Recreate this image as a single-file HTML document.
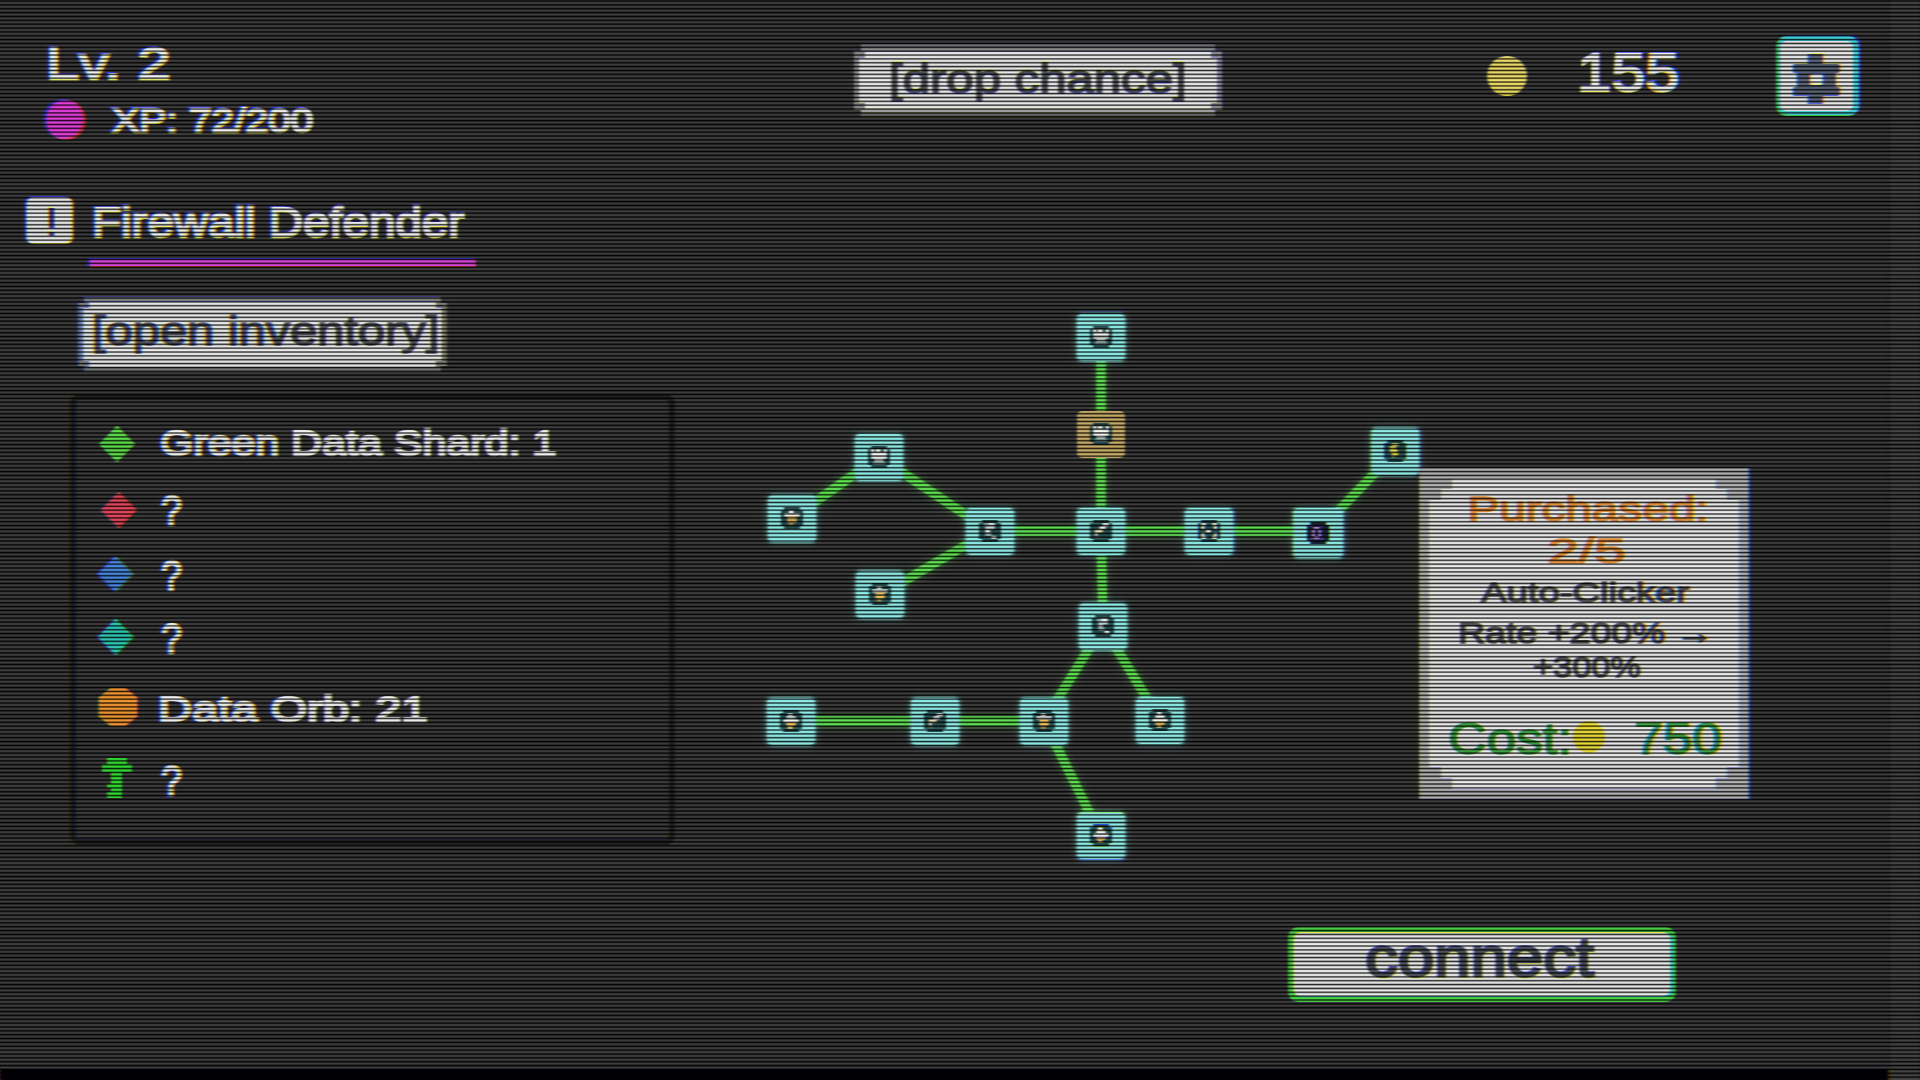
<!DOCTYPE html>
<html><head><meta charset="utf-8">
<style>
html,body{margin:0;padding:0;width:1920px;height:1080px;overflow:hidden;background:#3c3c3c;}
#ui{position:absolute;left:0;top:0;width:1920px;height:1080px;background:#3c3c3c;font-family:"Liberation Sans",sans-serif;font-weight:bold;overflow:hidden;filter:url(#crt);}
.t{position:absolute;white-space:nowrap;line-height:1;transform-origin:0 0;font-weight:normal;-webkit-text-stroke:1.3px currentColor;}
.w{color:#f0f0f0;-webkit-text-stroke:2.5px #f0f0f0;}
.dk{color:#505258;-webkit-text-stroke:1.6px #505258;}
.btn{position:absolute;background:#e9e9e9;}
.halo{position:absolute;background:rgba(232,233,236,.48);}
.dia{position:absolute;width:26px;height:26px;transform:rotate(45deg);}
.node{position:absolute;width:48px;height:47px;background:#90ece8;border-radius:5px;box-shadow:0 0 0 2px rgba(130,225,220,.3),0 0 8px rgba(130,235,230,.45);}
.node svg{position:absolute;left:13px;top:12px;}
.node.gold{background:#c8ac6a;box-shadow:none}
.node.big{width:50px;height:50px}
.node.big svg{left:14px;top:14px}
#lines{position:absolute;left:0;top:0;}
#scan{position:absolute;left:0;top:0;width:1920px;height:1080px;
 backdrop-filter:brightness(0.15) contrast(1.074);
 -webkit-mask-image:repeating-linear-gradient(to bottom,#000 0px,transparent 1.4px,transparent 2.457px,#000 3.857px);
 mask-image:repeating-linear-gradient(to bottom,#000 0px,transparent 1.4px,transparent 2.457px,#000 3.857px);
 -webkit-mask-position:0 1.07px;mask-position:0 1.07px;}
#bot{position:absolute;left:0;top:1069px;width:1892px;height:11px;background:#010106;}
</style></head>
<body>
<svg width="0" height="0" style="position:absolute">
  <filter id="crt" x="0" y="0" width="1920" height="1080" filterUnits="userSpaceOnUse" color-interpolation-filters="sRGB">
    <feFlood flood-color="#3c3c3c" x="0" y="0" width="1920" height="1080" result="bg"/>
    <feOffset in="SourceGraphic" dx="-2" dy="-1" x="0" y="0" width="278" height="313" result="b00"/>
    <feOffset in="SourceGraphic" dx="-2" dy="0" x="0" y="313" width="278" height="454" result="b01"/>
    <feOffset in="SourceGraphic" dx="-2" dy="1" x="0" y="767" width="278" height="313" result="b02"/>
    <feOffset in="SourceGraphic" dx="-1" dy="-1" x="278" y="0" width="455" height="313" result="b10"/>
    <feOffset in="SourceGraphic" dx="-1" dy="0" x="278" y="313" width="455" height="454" result="b11"/>
    <feOffset in="SourceGraphic" dx="-1" dy="1" x="278" y="767" width="455" height="313" result="b12"/>
    <feOffset in="SourceGraphic" dx="0" dy="-1" x="733" y="0" width="454" height="313" result="b20"/>
    <feOffset in="SourceGraphic" dx="0" dy="0" x="733" y="313" width="454" height="454" result="b21"/>
    <feOffset in="SourceGraphic" dx="0" dy="1" x="733" y="767" width="454" height="313" result="b22"/>
    <feOffset in="SourceGraphic" dx="1" dy="-1" x="1187" y="0" width="455" height="313" result="b30"/>
    <feOffset in="SourceGraphic" dx="1" dy="0" x="1187" y="313" width="455" height="454" result="b31"/>
    <feOffset in="SourceGraphic" dx="1" dy="1" x="1187" y="767" width="455" height="313" result="b32"/>
    <feOffset in="SourceGraphic" dx="2" dy="-1" x="1642" y="0" width="278" height="313" result="b40"/>
    <feOffset in="SourceGraphic" dx="2" dy="0" x="1642" y="313" width="278" height="454" result="b41"/>
    <feOffset in="SourceGraphic" dx="2" dy="1" x="1642" y="767" width="278" height="313" result="b42"/>
    <feMerge x="0" y="0" width="1920" height="1080" result="bm"><feMergeNode in="bg"/><feMergeNode in="b00"/><feMergeNode in="b01"/><feMergeNode in="b02"/><feMergeNode in="b10"/><feMergeNode in="b11"/><feMergeNode in="b12"/><feMergeNode in="b20"/><feMergeNode in="b21"/><feMergeNode in="b22"/><feMergeNode in="b30"/><feMergeNode in="b31"/><feMergeNode in="b32"/><feMergeNode in="b40"/><feMergeNode in="b41"/><feMergeNode in="b42"/></feMerge>
    <feOffset in="SourceGraphic" dx="1" dy="0" x="0" y="0" width="278" height="313" result="r00"/>
    <feOffset in="SourceGraphic" dx="1" dy="0" x="0" y="313" width="278" height="454" result="r01"/>
    <feOffset in="SourceGraphic" dx="1" dy="0" x="0" y="767" width="278" height="313" result="r02"/>
    <feOffset in="SourceGraphic" dx="0" dy="0" x="278" y="0" width="455" height="313" result="r10"/>
    <feOffset in="SourceGraphic" dx="0" dy="0" x="278" y="313" width="455" height="454" result="r11"/>
    <feOffset in="SourceGraphic" dx="0" dy="0" x="278" y="767" width="455" height="313" result="r12"/>
    <feOffset in="SourceGraphic" dx="0" dy="0" x="733" y="0" width="454" height="313" result="r20"/>
    <feOffset in="SourceGraphic" dx="0" dy="0" x="733" y="313" width="454" height="454" result="r21"/>
    <feOffset in="SourceGraphic" dx="0" dy="0" x="733" y="767" width="454" height="313" result="r22"/>
    <feOffset in="SourceGraphic" dx="0" dy="0" x="1187" y="0" width="455" height="313" result="r30"/>
    <feOffset in="SourceGraphic" dx="0" dy="0" x="1187" y="313" width="455" height="454" result="r31"/>
    <feOffset in="SourceGraphic" dx="0" dy="0" x="1187" y="767" width="455" height="313" result="r32"/>
    <feOffset in="SourceGraphic" dx="-1" dy="0" x="1642" y="0" width="278" height="313" result="r40"/>
    <feOffset in="SourceGraphic" dx="-1" dy="0" x="1642" y="313" width="278" height="454" result="r41"/>
    <feOffset in="SourceGraphic" dx="-1" dy="0" x="1642" y="767" width="278" height="313" result="r42"/>
    <feMerge x="0" y="0" width="1920" height="1080" result="rm"><feMergeNode in="bg"/><feMergeNode in="r00"/><feMergeNode in="r01"/><feMergeNode in="r02"/><feMergeNode in="r10"/><feMergeNode in="r11"/><feMergeNode in="r12"/><feMergeNode in="r20"/><feMergeNode in="r21"/><feMergeNode in="r22"/><feMergeNode in="r30"/><feMergeNode in="r31"/><feMergeNode in="r32"/><feMergeNode in="r40"/><feMergeNode in="r41"/><feMergeNode in="r42"/></feMerge>
    <feColorMatrix in="rm" type="matrix" values="1 0 0 0 0  0 0 0 0 0  0 0 0 0 0  0 0 0 1 0" result="r"/>
    <feColorMatrix in="SourceGraphic" type="matrix" values="0 0 0 0 0  0 1 0 0 0  0 0 0 0 0  0 0 0 1 0" result="g"/>
    <feColorMatrix in="bm" type="matrix" values="0 0 0 0 0  0 0 0 0 0  0 0 1 0 0  0 0 0 1 0" result="b"/>
    <feComposite in="r" in2="g" operator="arithmetic" k2="1" k3="1" result="rg"/>
    <feComposite in="rg" in2="b" operator="arithmetic" k2="1" k3="1" result="rgb"/>
    <feGaussianBlur in="rgb" stdDeviation="1.3 0.5"/>
  </filter>
</svg>
<div id="ui">
  <!-- top left -->
  <div id="lv" class="t w" style="left:46.0px;top:41.0px;font-size:45.1px;transform:scaleX(1.320)">Lv. 2</div>
  <div style="position:absolute;left:45px;top:100px;width:40px;height:40px;border-radius:50%;background:#e040d8"></div>
  <div id="xp" class="t w" style="left:112.0px;top:104.5px;font-size:32.5px;transform:scaleX(1.252)">XP: 72/200</div>

  <!-- quest -->
  <div style="position:absolute;left:26px;top:197px;width:47px;height:47px;background:#e9e9e9;border-radius:7px"></div>
  <div style="position:absolute;left:49px;top:208px;width:5px;height:20px;background:#4a3a58;"></div>
  <div style="position:absolute;left:49px;top:232px;width:5px;height:4px;background:#4a3a58;"></div>
  <div id="fw" class="t w" style="left:92.0px;top:202.0px;font-size:42.0px;transform:scaleX(1.131)">Firewall Defender</div>
  <div style="position:absolute;left:89px;top:259px;width:387px;height:8px;background:#d848d8;"></div>

  <!-- open inventory -->
  <div class="halo" style="background:linear-gradient(to bottom,rgba(232,233,236,.4) 0,rgba(232,233,236,.4) 70px,rgba(232,233,236,.35) 70px,rgba(232,233,236,.35) 75px);left:78px;top:297px;width:369px;height:75px;clip-path:polygon(6px 0px,363px 0px,363px 6px,369px 6px,369px 69px,363px 69px,363px 75px,6px 75px,6px 69px,0px 69px,0px 6px,6px 6px)"></div>
  <div class="btn" style="left:83px;top:302px;width:359px;height:65px;clip-path:polygon(6px 0px,353px 0px,353px 6px,359px 6px,359px 59px,353px 59px,353px 65px,6px 65px,6px 59px,0px 59px,0px 6px,6px 6px)"></div>
  <div id="oi" class="t dk" style="left:92.0px;top:311.0px;font-size:41.0px;transform:scaleX(1.191)">[open inventory]</div>

  <!-- inventory panel -->
  <div style="position:absolute;left:70px;top:394px;width:605px;height:451px;box-sizing:border-box;border:6px solid #222222;border-radius:9px;"></div>
  <div class="dia" style="left:103.7px;top:430.6px;background:#60dc4c"></div>
  <div id="gds" class="t w" style="left:160.0px;top:426.0px;font-size:35.4px;transform:scaleX(1.214)">Green Data Shard: 1</div>
  <div class="dia" style="left:104.5px;top:497px;background:#e04a5e"></div>
  <div class="t w" style="left:161px;top:490px;font-size:42px;transform:scaleX(0.9)">?</div>
  <div class="dia" style="left:103px;top:561px;background:#4a88dc"></div>
  <div class="t w" style="left:161px;top:555px;font-size:42px;transform:scaleX(0.9)">?</div>
  <div class="dia" style="left:103px;top:624px;background:#30c8b8"></div>
  <div class="t w" style="left:161px;top:618px;font-size:42px;transform:scaleX(0.9)">?</div>
  <div style="position:absolute;left:98px;top:688px;width:39px;height:38px;background:#f09632;clip-path:polygon(30% 0,70% 0,100% 25%,100% 75%,70% 100%,30% 100%,0 75%,0 25%)"></div>
  <div id="orb" class="t w" style="left:158.0px;top:692.0px;font-size:35.4px;transform:scaleX(1.331)">Data Orb: 21</div>
  <!-- key -->
  <svg style="position:absolute;left:100px;top:756px" width="36" height="44" viewBox="0 0 36 44"><path fill="#34d834" d="M7 2H27V8H32V16H22V42H7V36H11V32H7V28H11V16H2V8H7Z"/></svg>
  <div class="t w" style="left:161px;top:760px;font-size:42px;transform:scaleX(0.9)">?</div>

  <!-- drop chance -->
  <div class="halo" style="background:linear-gradient(to bottom,rgba(232,233,236,.3) 0,rgba(232,233,236,.3) 4px,rgba(232,233,236,.45) 4px,rgba(232,233,236,.45) 65px,rgba(232,233,236,.6) 65px,rgba(232,233,236,.6) 69px,rgba(232,233,236,.25) 69px,rgba(232,233,236,.25) 73px);left:854px;top:44px;width:368px;height:73px;clip-path:polygon(7px 0px,361px 0px,361px 7px,368px 7px,368px 66px,361px 66px,361px 73px,7px 73px,7px 66px,0px 66px,0px 7px,7px 7px)"></div>
  <div class="btn" style="left:859px;top:52px;width:358px;height:57px;clip-path:polygon(6px 0px,352px 0px,352px 6px,358px 6px,358px 51px,352px 51px,352px 57px,6px 57px,6px 51px,0px 51px,0px 6px,6px 6px)"></div>
  <div id="dc" class="t dk" style="left:889.0px;top:59.0px;font-size:41.0px;transform:scaleX(1.198)">[drop chance]</div>

  <!-- coins -->
  <div style="position:absolute;left:1487px;top:56px;width:40px;height:40px;border-radius:50%;background:#ecdc6a"></div>
  <div id="coins" class="t w" style="left:1577.0px;top:45.0px;font-size:54.1px;transform:scaleX(1.135)">155</div>

  <!-- settings -->
  <div style="position:absolute;left:1776px;top:36px;width:83px;height:80px;background:#44d4dc;border-radius:10px"></div>
  <div style="position:absolute;left:1781px;top:41px;width:73px;height:70px;background:#e9e9e9;border-radius:6px;"></div>
  <svg style="position:absolute;left:1790px;top:50px" width="56" height="56" viewBox="0 0 56 56">
    <g fill="#5c6678">
      <rect x="18" y="4" width="15" height="11"/>
      <rect x="3" y="14" width="47" height="9" rx="2"/>
      <rect x="7" y="22" width="39" height="16"/>
      <rect x="3" y="37" width="47" height="9" rx="2"/>
      <rect x="18" y="45" width="15" height="9"/>
    </g>
    <rect x="20" y="24" width="13" height="11" rx="2" fill="#eeeeee"/>
  </svg>

  <!-- skill tree lines -->
  <svg id="lines" width="1920" height="1080">
    <g stroke="#62e054" stroke-width="9.5" stroke-linecap="butt" style="filter:drop-shadow(0 0 4px rgba(90,225,80,.45))">
      <line x1="1101" y1="337" x2="1101" y2="531"/>
      <line x1="990" y1="531" x2="1318" y2="531"/>
      <line x1="1318" y1="532" x2="1395" y2="452"/>
      <line x1="990" y1="531" x2="879" y2="457"/>
      <line x1="879" y1="457" x2="792" y2="518"/>
      <line x1="990" y1="531" x2="880" y2="595"/>
      <line x1="1101" y1="531" x2="1103" y2="626"/>
      <line x1="1103" y1="626" x2="1160" y2="720"/>
      <line x1="1103" y1="626" x2="1044" y2="721"/>
      <line x1="1044" y1="721" x2="791" y2="721"/>
      <line x1="1044" y1="721" x2="1101" y2="836"/>
    </g>
  </svg>

  <!-- nodes -->
  <div class="node" style="left:1077px;top:314px"><svg viewBox="0 0 22 22" width="22" height="22"><rect x="3.15" y="0.00" width="15.75" height="3.15" fill="#2a5254"/><rect x="0.00" y="3.15" width="22.05" height="15.75" fill="#2a5254"/><rect x="3.15" y="18.90" width="15.75" height="3.15" fill="#2a5254"/><rect x="3.15" y="3.15" width="3.15" height="3.15" fill="#f4f4f0"/><rect x="7.88" y="3.15" width="4.72" height="3.15" fill="#f4f4f0"/><rect x="15.75" y="3.15" width="3.15" height="3.15" fill="#f4f4f0"/><rect x="3.15" y="6.30" width="15.75" height="3.15" fill="#f4f4f0"/><rect x="3.15" y="9.45" width="15.75" height="3.15" fill="#f4f4f0"/><rect x="6.30" y="12.60" width="9.45" height="3.15" fill="#f4f4f0"/><rect x="4.72" y="15.75" width="12.60" height="3.15" fill="#7a9a98"/></svg></div>
  <div class="node gold" style="left:1077px;top:411px"><svg viewBox="0 0 22 22" width="22" height="22"><rect x="3.15" y="0.00" width="15.75" height="3.15" fill="#2a5254"/><rect x="0.00" y="3.15" width="22.05" height="15.75" fill="#2a5254"/><rect x="3.15" y="18.90" width="15.75" height="3.15" fill="#2a5254"/><rect x="3.15" y="3.15" width="3.15" height="3.15" fill="#f4f4f0"/><rect x="7.88" y="3.15" width="4.72" height="3.15" fill="#f4f4f0"/><rect x="15.75" y="3.15" width="3.15" height="3.15" fill="#f4f4f0"/><rect x="3.15" y="6.30" width="15.75" height="3.15" fill="#f4f4f0"/><rect x="3.15" y="9.45" width="15.75" height="3.15" fill="#f4f4f0"/><rect x="6.30" y="12.60" width="9.45" height="3.15" fill="#f4f4f0"/><rect x="4.72" y="15.75" width="12.60" height="3.15" fill="#7a9a98"/></svg></div>
  <div class="node" style="left:1077px;top:508px"><svg viewBox="0 0 22 22" width="22" height="22"><rect x="3.15" y="0.00" width="15.75" height="3.15" fill="#2a5254"/><rect x="0.00" y="3.15" width="22.05" height="15.75" fill="#2a5254"/><rect x="3.15" y="18.90" width="15.75" height="3.15" fill="#2a5254"/><rect x="12.60" y="3.15" width="6.30" height="3.15" fill="#f4f4f0"/><rect x="9.45" y="6.30" width="6.30" height="3.15" fill="#f4f4f0"/><rect x="4.72" y="9.45" width="7.88" height="3.15" fill="#f0e0b0"/><rect x="4.72" y="12.60" width="3.15" height="3.15" fill="#d0d0c0"/><rect x="4.72" y="15.75" width="4.72" height="3.15" fill="#506060"/></svg></div>
  <div class="node" style="left:966px;top:508px"><svg viewBox="0 0 22 22" width="22" height="22"><rect x="3.15" y="0.00" width="15.75" height="3.15" fill="#2a5254"/><rect x="0.00" y="3.15" width="22.05" height="15.75" fill="#2a5254"/><rect x="3.15" y="18.90" width="15.75" height="3.15" fill="#2a5254"/><rect x="4.72" y="3.15" width="9.45" height="3.15" fill="#8aa8a8"/><rect x="9.45" y="3.15" width="6.30" height="3.15" fill="#f4f4f0"/><rect x="6.30" y="6.30" width="9.45" height="3.15" fill="#c8d8d8"/><rect x="6.30" y="9.45" width="4.72" height="3.15" fill="#f4f4f0"/><rect x="6.30" y="12.60" width="6.30" height="3.15" fill="#a8c0c0"/><rect x="12.60" y="15.75" width="4.72" height="3.15" fill="#f4f4f0"/></svg></div>
  <div class="node" style="left:855px;top:434px"><svg viewBox="0 0 22 22" width="22" height="22"><rect x="3.15" y="0.00" width="15.75" height="3.15" fill="#2a5254"/><rect x="0.00" y="3.15" width="22.05" height="15.75" fill="#2a5254"/><rect x="3.15" y="18.90" width="15.75" height="3.15" fill="#2a5254"/><rect x="3.15" y="3.15" width="3.15" height="3.15" fill="#f4f4f0"/><rect x="7.88" y="3.15" width="4.72" height="3.15" fill="#f4f4f0"/><rect x="15.75" y="3.15" width="3.15" height="3.15" fill="#f4f4f0"/><rect x="3.15" y="6.30" width="15.75" height="3.15" fill="#f4f4f0"/><rect x="3.15" y="9.45" width="15.75" height="3.15" fill="#f4f4f0"/><rect x="6.30" y="12.60" width="9.45" height="3.15" fill="#f4f4f0"/><rect x="4.72" y="15.75" width="12.60" height="3.15" fill="#7a9a98"/></svg></div>
  <div class="node" style="left:768px;top:495px"><svg viewBox="0 0 22 22" width="22" height="22"><rect x="3.15" y="0.00" width="15.75" height="3.15" fill="#2a5254"/><rect x="0.00" y="3.15" width="22.05" height="15.75" fill="#2a5254"/><rect x="3.15" y="18.90" width="15.75" height="3.15" fill="#2a5254"/><rect x="7.88" y="3.15" width="4.72" height="3.15" fill="#f4f4f0"/><rect x="3.15" y="6.30" width="15.75" height="3.15" fill="#f4f4f0"/><rect x="6.30" y="9.45" width="9.45" height="3.15" fill="#f0c060"/><rect x="6.30" y="12.60" width="9.45" height="3.15" fill="#f0c060"/><rect x="7.88" y="15.75" width="4.72" height="3.15" fill="#a08850"/></svg></div>
  <div class="node" style="left:856px;top:571px"><svg viewBox="0 0 22 22" width="22" height="22"><rect x="3.15" y="0.00" width="15.75" height="3.15" fill="#2a5254"/><rect x="0.00" y="3.15" width="22.05" height="15.75" fill="#2a5254"/><rect x="3.15" y="18.90" width="15.75" height="3.15" fill="#2a5254"/><rect x="7.88" y="3.15" width="4.72" height="3.15" fill="#f4f4f0"/><rect x="3.15" y="6.30" width="15.75" height="3.15" fill="#f4f4f0"/><rect x="6.30" y="9.45" width="9.45" height="3.15" fill="#f0c060"/><rect x="6.30" y="12.60" width="9.45" height="3.15" fill="#f0c060"/><rect x="7.88" y="15.75" width="4.72" height="3.15" fill="#a08850"/></svg></div>
  <div class="node" style="left:1185px;top:508px"><svg viewBox="0 0 22 22" width="22" height="22"><rect x="3.15" y="0.00" width="15.75" height="3.15" fill="#2a5254"/><rect x="0.00" y="3.15" width="22.05" height="15.75" fill="#2a5254"/><rect x="3.15" y="18.90" width="15.75" height="3.15" fill="#2a5254"/><rect x="3.15" y="3.15" width="4.72" height="3.15" fill="#f4f4f0"/><rect x="14.17" y="3.15" width="4.72" height="3.15" fill="#f4f4f0"/><rect x="3.15" y="6.30" width="3.15" height="3.15" fill="#f4f4f0"/><rect x="15.75" y="6.30" width="3.15" height="3.15" fill="#f4f4f0"/><rect x="7.88" y="9.45" width="4.72" height="3.15" fill="#f4f4f0"/><rect x="3.15" y="12.60" width="3.15" height="3.15" fill="#f4f4f0"/><rect x="15.75" y="12.60" width="3.15" height="3.15" fill="#f4f4f0"/><rect x="3.15" y="15.75" width="4.72" height="3.15" fill="#f4f4f0"/><rect x="14.17" y="15.75" width="4.72" height="3.15" fill="#f4f4f0"/></svg></div>
  <div class="node big" style="left:1293px;top:508px"><svg viewBox="0 0 22 22" width="22" height="22"><rect x="3.15" y="0.00" width="15.75" height="3.15" fill="#1a2838"/><rect x="0.00" y="3.15" width="22.05" height="15.75" fill="#1a2838"/><rect x="3.15" y="18.90" width="15.75" height="3.15" fill="#1a2838"/><rect x="6.30" y="4.72" width="6.30" height="3.15" fill="#b080e0"/><rect x="4.72" y="7.88" width="3.15" height="6.30" fill="#b080e0"/><rect x="11.03" y="7.88" width="3.15" height="6.30" fill="#b080e0"/><rect x="6.30" y="14.17" width="6.30" height="3.15" fill="#b080e0"/><rect x="3.15" y="3.15" width="1.89" height="1.89" fill="#8060b0"/><rect x="14.17" y="3.15" width="1.89" height="1.89" fill="#8060b0"/><rect x="3.15" y="15.75" width="1.89" height="1.89" fill="#8060b0"/><rect x="14.17" y="15.75" width="1.89" height="1.89" fill="#8060b0"/></svg></div>
  <div class="node" style="left:1371px;top:428px"><svg viewBox="0 0 22 22" width="22" height="22"><rect x="3.15" y="0.00" width="15.75" height="3.15" fill="#2a5254"/><rect x="0.00" y="3.15" width="22.05" height="15.75" fill="#2a5254"/><rect x="3.15" y="18.90" width="15.75" height="3.15" fill="#2a5254"/><rect x="7.88" y="3.15" width="6.30" height="3.15" fill="#f0e060"/><rect x="5.67" y="6.30" width="6.30" height="3.15" fill="#f0e060"/><rect x="5.67" y="9.45" width="7.88" height="3.15" fill="#e8d850"/><rect x="7.88" y="12.60" width="6.30" height="3.15" fill="#d8c840"/><rect x="7.88" y="15.75" width="3.15" height="1.89" fill="#a0a040"/></svg></div>
  <div class="node" style="left:1079px;top:603px"><svg viewBox="0 0 22 22" width="22" height="22"><rect x="3.15" y="0.00" width="15.75" height="3.15" fill="#2a5254"/><rect x="0.00" y="3.15" width="22.05" height="15.75" fill="#2a5254"/><rect x="3.15" y="18.90" width="15.75" height="3.15" fill="#2a5254"/><rect x="4.72" y="3.15" width="9.45" height="3.15" fill="#8aa8a8"/><rect x="9.45" y="3.15" width="6.30" height="3.15" fill="#f4f4f0"/><rect x="6.30" y="6.30" width="9.45" height="3.15" fill="#c8d8d8"/><rect x="6.30" y="9.45" width="4.72" height="3.15" fill="#f4f4f0"/><rect x="6.30" y="12.60" width="6.30" height="3.15" fill="#a8c0c0"/><rect x="12.60" y="15.75" width="4.72" height="3.15" fill="#f4f4f0"/></svg></div>
  <div class="node" style="left:1136px;top:697px"><svg viewBox="0 0 22 22" width="22" height="22"><rect x="3.15" y="0.00" width="15.75" height="3.15" fill="#2a5254"/><rect x="0.00" y="3.15" width="22.05" height="15.75" fill="#2a5254"/><rect x="3.15" y="18.90" width="15.75" height="3.15" fill="#2a5254"/><rect x="7.88" y="3.15" width="4.72" height="3.15" fill="#f4f4f0"/><rect x="6.30" y="6.30" width="9.45" height="3.15" fill="#f4f4f0"/><rect x="3.15" y="9.45" width="15.75" height="3.15" fill="#f4f4f0"/><rect x="6.30" y="12.60" width="9.45" height="3.15" fill="#f0c060"/><rect x="7.88" y="15.75" width="4.72" height="3.15" fill="#f0c060"/></svg></div>
  <div class="node" style="left:1020px;top:698px"><svg viewBox="0 0 22 22" width="22" height="22"><rect x="3.15" y="0.00" width="15.75" height="3.15" fill="#2a5254"/><rect x="0.00" y="3.15" width="22.05" height="15.75" fill="#2a5254"/><rect x="3.15" y="18.90" width="15.75" height="3.15" fill="#2a5254"/><rect x="7.88" y="3.15" width="4.72" height="3.15" fill="#f4f4f0"/><rect x="3.15" y="6.30" width="15.75" height="3.15" fill="#f4f4f0"/><rect x="6.30" y="9.45" width="9.45" height="3.15" fill="#f0c060"/><rect x="6.30" y="12.60" width="9.45" height="3.15" fill="#f0c060"/><rect x="7.88" y="15.75" width="4.72" height="3.15" fill="#a08850"/></svg></div>
  <div class="node" style="left:911px;top:698px"><svg viewBox="0 0 22 22" width="22" height="22"><rect x="3.15" y="0.00" width="15.75" height="3.15" fill="#2a5254"/><rect x="0.00" y="3.15" width="22.05" height="15.75" fill="#2a5254"/><rect x="3.15" y="18.90" width="15.75" height="3.15" fill="#2a5254"/><rect x="12.60" y="3.15" width="6.30" height="3.15" fill="#f4f4f0"/><rect x="9.45" y="6.30" width="6.30" height="3.15" fill="#f4f4f0"/><rect x="4.72" y="9.45" width="7.88" height="3.15" fill="#f0e0b0"/><rect x="4.72" y="12.60" width="3.15" height="3.15" fill="#d0d0c0"/><rect x="4.72" y="15.75" width="4.72" height="3.15" fill="#506060"/></svg></div>
  <div class="node" style="left:767px;top:698px"><svg viewBox="0 0 22 22" width="22" height="22"><rect x="3.15" y="0.00" width="15.75" height="3.15" fill="#2a5254"/><rect x="0.00" y="3.15" width="22.05" height="15.75" fill="#2a5254"/><rect x="3.15" y="18.90" width="15.75" height="3.15" fill="#2a5254"/><rect x="7.88" y="3.15" width="4.72" height="3.15" fill="#f4f4f0"/><rect x="6.30" y="6.30" width="9.45" height="3.15" fill="#f4f4f0"/><rect x="3.15" y="9.45" width="15.75" height="3.15" fill="#f4f4f0"/><rect x="6.30" y="12.60" width="9.45" height="3.15" fill="#f0c060"/><rect x="7.88" y="15.75" width="4.72" height="3.15" fill="#f0c060"/></svg></div>
  <div class="node" style="left:1077px;top:812px"><svg viewBox="0 0 22 22" width="22" height="22"><rect x="3.15" y="0.00" width="15.75" height="3.15" fill="#2a5254"/><rect x="0.00" y="3.15" width="22.05" height="15.75" fill="#2a5254"/><rect x="3.15" y="18.90" width="15.75" height="3.15" fill="#2a5254"/><rect x="7.88" y="3.15" width="4.72" height="3.15" fill="#f4f4f0"/><rect x="6.30" y="6.30" width="9.45" height="3.15" fill="#f4f4f0"/><rect x="3.15" y="9.45" width="15.75" height="3.15" fill="#f4f4f0"/><rect x="6.30" y="12.60" width="9.45" height="3.15" fill="#f0c060"/><rect x="7.88" y="15.75" width="4.72" height="3.15" fill="#f0c060"/></svg></div>

  <!-- tooltip -->
  <div style="position:absolute;left:1419px;top:468px;width:330px;height:331px;background:#b2b2b2;"></div>
  <svg style="position:absolute;left:1419px;top:468px" width="330" height="331" viewBox="0 0 330 331">
    <path fill="#e9e9e9" d="M33 11H297V21H308V32H320V299H308V310H297V321H33V310H22V299H10V32H22V21H33Z"/>
  </svg>
  <div id="pur" class="t" style="-webkit-text-stroke:1.5px currentColor;left:1467.0px;top:492.0px;font-size:35.8px;color:#e4923e;transform:scaleX(1.330)">Purchased:</div>
  <div id="p25" class="t" style="-webkit-text-stroke:1.5px currentColor;left:1547.0px;top:534.0px;font-size:35.5px;color:#e4923e;transform:scaleX(1.586)">2/5</div>
  <div id="ac" class="t" style="-webkit-text-stroke:1.5px currentColor;left:1481.0px;top:578.0px;font-size:28.3px;color:#555555;transform:scaleX(1.351)">Auto-Clicker</div>
  <div id="rate" class="t" style="-webkit-text-stroke:1.5px currentColor;left:1458.0px;top:618.5px;font-size:29.2px;color:#555555;transform:scaleX(1.285)">Rate +200% →</div>
  <div id="r300" class="t" style="-webkit-text-stroke:1.5px currentColor;left:1533.0px;top:652.0px;font-size:30.1px;color:#555555;transform:scaleX(1.141)">+300%</div>
  <div id="cost" class="t" style="-webkit-text-stroke:1.5px currentColor;left:1448.0px;top:717.0px;font-size:44.6px;color:#40a044;transform:scaleX(1.192)">Cost:</div>
  <div style="position:absolute;left:1572px;top:721px;width:32px;height:32px;border-radius:50%;background:#ecdc3a"></div>
  <div id="c750" class="t" style="-webkit-text-stroke:1.5px currentColor;left:1634.0px;top:717.0px;font-size:44.6px;color:#40a044;transform:scaleX(1.184)">750</div>

  <!-- connect -->
  <div style="position:absolute;left:1288px;top:927px;width:388px;height:75px;background:#4ad046;border-radius:10px;"></div>
  <div style="position:absolute;left:1293px;top:932px;width:378px;height:64px;background:#e9e9e9;border-radius:7px;"></div>
  <div id="con" class="t dk" style="left:1365.0px;top:929.0px;font-size:55.8px;color:#4e535c;-webkit-text-stroke:2.4px #4e535c;transform:scaleX(1.172)">connect</div>

  <div id="bot"></div>
  <div style="position:absolute;left:1888px;top:0;width:2px;height:1080px;background:#343434"></div>
  <div style="position:absolute;left:1890px;top:0;width:30px;height:1080px;background:#444444"></div>
</div>
<div id="scan"></div>
</body></html>
